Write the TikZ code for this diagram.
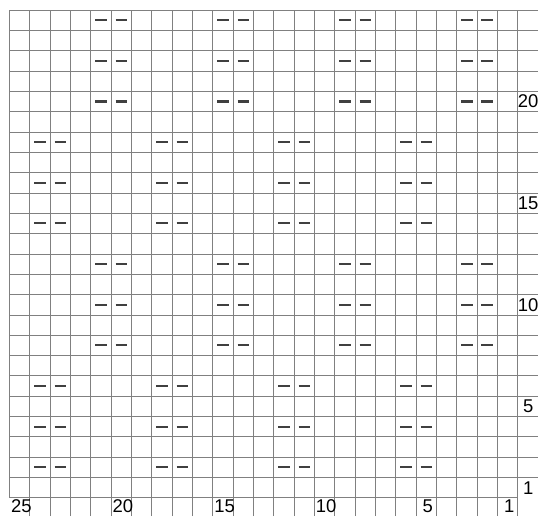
\documentclass[tikz,border=0pt]{standalone}
\usepackage{fontspec}
\setmainfont{Liberation Sans}
\usepackage{tikz}

\tikzset{
  gridline/.style={black!50, line width=0.6pt},
  purl/.style={black!75, line width=1.8pt},
  numlabel/.style={font=\fontsize{15.5}{15.5}\selectfont, inner sep=0pt}
}

\begin{document}
\begin{tikzpicture}[x=0.6cm, y=0.6cm]
        % one unit = one stitch; column 1 on the right, row 1 at the bottom
        \useasboundingbox (-0.467,-0.895) rectangle (26,24.49);
        \foreach \y in {1,...,24}{\draw[gridline] (0,\y) -- (26,\y);}
        \draw[gridline] (0,0) -- (25,0);
        \draw[gridline] (0,0) -- (0,24);
        \foreach \x in {1,...,25}{\draw[gridline] (\x,-0.9) -- (\x,24);}
        % purl pairs, rows 2-6 and 14-18
        \foreach \c in {24,18,12,6}{
            \foreach \r in {2,4,6,14,16,18}{
                \draw[purl] ({25-\c+0.22},{\r-0.5}) -- ++(0.56,0);
                \draw[purl] ({26-\c+0.22},{\r-0.5}) -- ++(0.56,0);
            }}
        % purl pairs, rows 8-12 and 20-24
        \foreach \c in {21,15,9,3}{
            \foreach \r in {8,10,12,20,22,24}{
                \draw[purl] ({25-\c+0.22},{\r-0.5}) -- ++(0.56,0);
                \draw[purl] ({26-\c+0.22},{\r-0.5}) -- ++(0.56,0);
            }}
        \foreach \c in {25,20,15,10,5,1}{\node[numlabel] (col\c) at ({25.58-\c},-0.42) {\c};}
        \foreach \r in {1,5,10,15,20}{\node[numlabel] (row\r) at (25.52,{\r-0.5}) {\r};}
    \end{tikzpicture}
\end{document}
